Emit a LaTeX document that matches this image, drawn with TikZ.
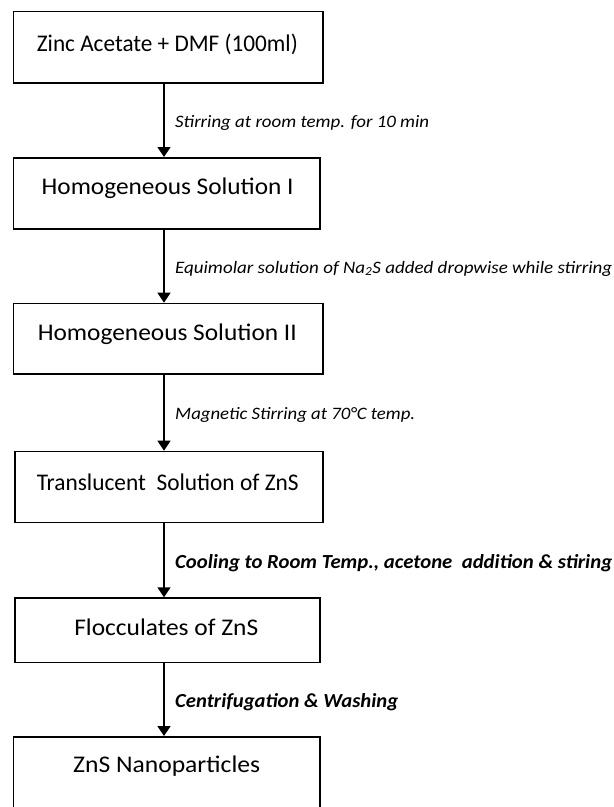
\documentclass[tikz,border=0pt]{standalone}
\usepackage{fontspec}
\usepackage{graphicx}
\setmainfont{Carlito}
\usetikzlibrary{arrows.meta}
\newcommand{\fitw}[2]{\resizebox{#1}{\height}{#2}}
\tikzset{
  box/.style={draw=black, line width=1.6bp, rectangle, inner sep=0pt, anchor=north west},
  boxtxt/.style={anchor=base, inner sep=0pt, font=\fontsize{24}{28}\selectfont},
  lbl/.style={anchor=base west, inner sep=0pt, font=\fontsize{17.5}{20}\selectfont\itshape},
  blbl/.style={anchor=base west, inner sep=0pt, font=\fontsize{20}{24}\selectfont\bfseries\itshape},
  arr/.style={line width=1.5bp, -{Triangle[width=13bp,length=10bp]}}
}
\begin{document}
\begin{tikzpicture}[x=1bp,y=-1bp]
\useasboundingbox (0,0) rectangle (614,807);
\coordinate (ax) at (164,0);
% boxes
\node[box, minimum width=309.3bp, minimum height=71.6bp] (b1) at (12.7,10.7) {};
\node[box, minimum width=306.3bp, minimum height=71bp] (b2) at (12.7,157) {};
\node[box, minimum width=309.6bp, minimum height=70.6bp] (b3) at (12.7,302.7) {};
\node[box, minimum width=308bp, minimum height=71bp] (b4) at (14.3,450.7) {};
\node[box, minimum width=305bp, minimum height=64.4bp] (b5) at (14,597.3) {};
\node[box, minimum width=306.3bp, minimum height=90bp] (b6) at (12.7,736) {};
% box texts
\path (b1.north) ++(-0.8,41) node[boxtxt] (t1) {\fitw{261bp}{Zinc Acetate + DMF (100ml)}};
\path (b2.north) ++(1,37) node[boxtxt] (t2) {\fitw{252bp}{Homogeneous Solution I}};
\path (b3.north) ++(-1,37.3) node[boxtxt] (t3) {\fitw{259bp}{Homogeneous Solution II}};
\path (b4.north) ++(-1.3,40) node[boxtxt] (t4) {\fitw{262bp}{Translucent\ \ Solution of ZnS}};
\path (b5.north) ++(-1,37.7) node[boxtxt] (t5) {\fitw{184bp}{Flocculates of ZnS}};
\path (b6.north) ++(0,36.3) node[boxtxt] (t6) {\fitw{187bp}{ZnS Nanoparticles}};
% connectors
\draw[arr] (b1.south -| ax) -- (b2.north -| ax);
\draw[arr] (b2.south -| ax) -- (b3.north -| ax);
\draw[arr] (b3.south -| ax) -- (b4.north -| ax);
\draw[arr] (b4.south -| ax) -- (b5.north -| ax);
\draw[arr] (b5.south -| ax) -- (b6.north -| ax);
% labels
\node[lbl] (l1) at (175,127) {\fitw{254bp}{Stirring at room temp. for 10 min}};
\node[lbl] (l2) at (175,273) {\fitw{437bp}{Equimolar solution of Na\textsubscript{2}S added dropwise while stirring}};
\node[lbl] (l3) at (175,419) {\fitw{240bp}{Magnetic Stirring at 70°C temp.}};
\node[blbl] (l4) at (175,568.5) {\fitw{437bp}{Cooling to Room Temp., acetone\ \ addition \& stiring}};
\node[blbl] (l5) at (175,707.5) {\fitw{223bp}{Centrifugation \& Washing}};
\end{tikzpicture}
\end{document}
